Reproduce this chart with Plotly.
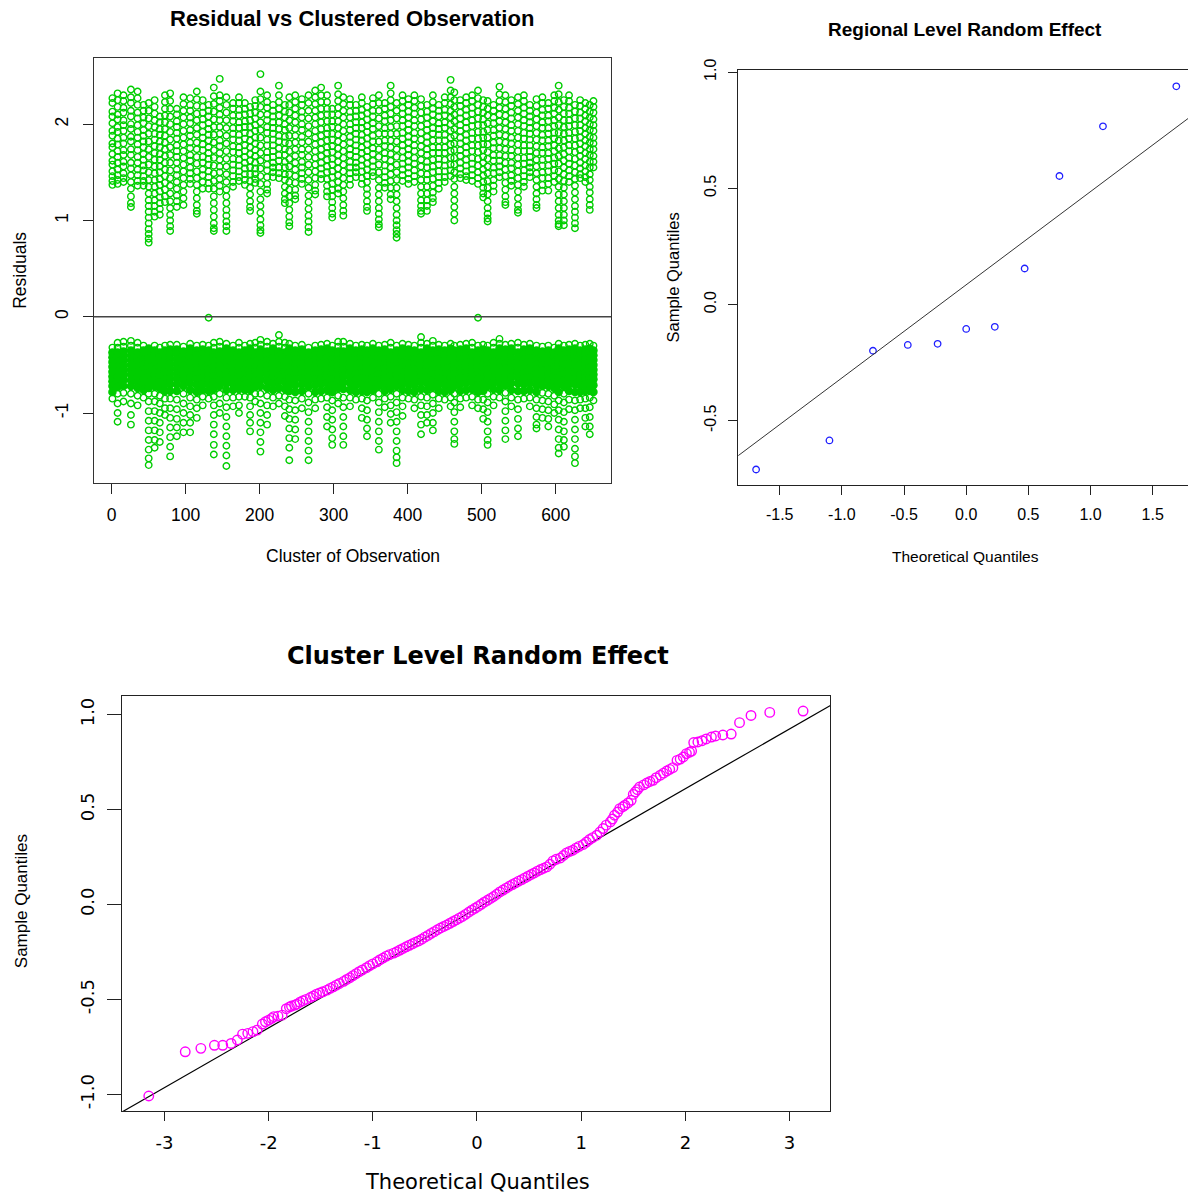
import plotly.graph_objects as go

W, H = 1188, 1194

# ---------------- Panel 1: residuals by cluster ----------------
upper_resid = {
    1: [2.27, 2.22, 2.13, 2.08, 2.01, 1.93, 1.88, 1.8, 1.76, 1.69, 1.62, 1.58, 1.51, 1.46, 1.41, 1.37],
    8: [2.32, 2.25, 2.18, 2.1, 2.05, 1.97, 1.92, 1.85, 1.79, 1.72, 1.66, 1.6, 1.53, 1.47, 1.42, 1.38],
    16: [2.3, 2.24, 2.17, 2.12, 2.04, 1.99, 1.93, 1.86, 1.8, 1.73, 1.68, 1.61, 1.56, 1.49, 1.44, 1.4],
    26: [2.36, 2.28, 2.22, 2.14, 2.08, 2.0, 1.95, 1.87, 1.82, 1.74, 1.68, 1.6, 1.54, 1.47, 1.4, 1.33, 1.25, 1.18, 1.14],
    35: [2.34, 2.27, 2.2, 2.12, 2.06, 1.99, 1.92, 1.86, 1.79, 1.73, 1.66, 1.6, 1.53, 1.47, 1.41, 1.36],
    43: [2.2, 2.14, 2.07, 2.01, 1.94, 1.88, 1.82, 1.76, 1.69, 1.63, 1.57, 1.52, 1.46, 1.41, 1.36],
    50: [2.22, 2.14, 2.06, 1.98, 1.9, 1.82, 1.74, 1.66, 1.58, 1.5, 1.42, 1.35, 1.28, 1.21, 1.15, 1.09, 1.03, .97, .91, .86, .81, .77],
    58: [2.25, 2.18, 2.11, 2.04, 1.97, 1.9, 1.84, 1.77, 1.7, 1.63, 1.56, 1.49, 1.42, 1.35, 1.28, 1.21, 1.15, 1.09, 1.04],
    65: [2.08, 2.02, 1.95, 1.89, 1.82, 1.76, 1.69, 1.63, 1.56, 1.5, 1.43, 1.37, 1.3, 1.24, 1.18, 1.12, 1.06],
    72: [2.3, 2.23, 2.16, 2.09, 2.02, 1.95, 1.88, 1.81, 1.74, 1.67, 1.6, 1.53, 1.46, 1.39, 1.32, 1.25, 1.19],
    79: [2.32, 2.24, 2.16, 2.08, 2.0, 1.92, 1.84, 1.76, 1.68, 1.6, 1.52, 1.44, 1.36, 1.28, 1.2, 1.13, 1.06, 1.0, .94, .89],
    88: [2.16, 2.1, 2.03, 1.97, 1.91, 1.85, 1.78, 1.72, 1.66, 1.6, 1.53, 1.47, 1.4, 1.33, 1.26, 1.2, 1.14],
    97: [2.28, 2.21, 2.14, 2.07, 2.0, 1.93, 1.86, 1.79, 1.72, 1.65, 1.58, 1.51, 1.44, 1.37, 1.3, 1.23, 1.16],
    106: [2.27, 2.2, 2.14, 2.07, 2.01, 1.94, 1.88, 1.81, 1.75, 1.68, 1.62, 1.55, 1.49, 1.43, 1.38],
    115: [2.34, 2.26, 2.19, 2.11, 2.04, 1.96, 1.89, 1.81, 1.74, 1.66, 1.59, 1.51, 1.44, 1.37, 1.3, 1.23, 1.16, 1.1, 1.07],
    123: [2.25, 2.18, 2.12, 2.05, 1.99, 1.92, 1.86, 1.79, 1.73, 1.66, 1.6, 1.53, 1.47, 1.4, 1.33],
    131: [2.2, 2.14, 2.08, 2.01, 1.95, 1.89, 1.83, 1.76, 1.7, 1.64, 1.58, 1.51, 1.45, 1.39, 1.33],
    138: [2.38, 2.29, 2.21, 2.13, 2.05, 1.97, 1.89, 1.81, 1.73, 1.65, 1.57, 1.49, 1.41, 1.33, 1.25, 1.18, 1.11, 1.04, .97, .92, .89],
    146: [2.47, 2.3, 2.24, 2.17, 2.1, 2.04, 1.97, 1.9, 1.83, 1.77, 1.7, 1.63, 1.56, 1.5, 1.43, 1.36, 1.3],
    155: [2.28, 2.2, 2.12, 2.04, 1.96, 1.88, 1.8, 1.72, 1.64, 1.56, 1.48, 1.4, 1.32, 1.25, 1.18, 1.11, 1.05, .99, .94, .89],
    164: [2.22, 2.16, 2.09, 2.03, 1.96, 1.9, 1.84, 1.77, 1.71, 1.64, 1.58, 1.52, 1.46, 1.4, 1.35],
    172: [2.28, 2.22, 2.15, 2.09, 2.02, 1.96, 1.89, 1.83, 1.76, 1.7, 1.63, 1.57, 1.51, 1.45, 1.41],
    180: [2.22, 2.16, 2.1, 2.03, 1.97, 1.91, 1.85, 1.78, 1.72, 1.66, 1.6, 1.54, 1.48, 1.42, 1.37],
    187: [2.18, 2.11, 2.04, 1.97, 1.9, 1.83, 1.76, 1.69, 1.62, 1.55, 1.48, 1.41, 1.34, 1.27, 1.2, 1.14, 1.1],
    194: [2.25, 2.19, 2.12, 2.06, 1.99, 1.93, 1.86, 1.8, 1.73, 1.67, 1.6, 1.54, 1.48, 1.43, 1.39],
    201: [2.52, 2.34, 2.26, 2.18, 2.1, 2.02, 1.94, 1.86, 1.78, 1.7, 1.62, 1.54, 1.46, 1.38, 1.3, 1.22, 1.15, 1.08, 1.01, .95, .9, .87],
    210: [2.3, 2.23, 2.17, 2.1, 2.04, 1.97, 1.91, 1.84, 1.78, 1.71, 1.65, 1.58, 1.52, 1.45, 1.38, 1.32, 1.28],
    218: [2.2, 2.14, 2.08, 2.02, 1.96, 1.9, 1.84, 1.78, 1.72, 1.66, 1.6, 1.55, 1.5, 1.45],
    226: [2.4, 2.3, 2.23, 2.16, 2.09, 2.02, 1.95, 1.88, 1.82, 1.75, 1.68, 1.62, 1.55, 1.49, 1.44],
    234: [2.2, 2.13, 2.07, 2.0, 1.94, 1.87, 1.81, 1.74, 1.68, 1.61, 1.55, 1.48, 1.42, 1.35, 1.28, 1.22, 1.18],
    240: [2.28, 2.2, 2.12, 2.04, 1.96, 1.88, 1.8, 1.72, 1.64, 1.56, 1.48, 1.4, 1.32, 1.25, 1.18, 1.11, 1.04, .98, .94],
    248: [2.3, 2.23, 2.16, 2.09, 2.02, 1.95, 1.88, 1.81, 1.74, 1.67, 1.6, 1.53, 1.46, 1.39, 1.32, 1.26, 1.22],
    257: [2.26, 2.2, 2.13, 2.07, 2.0, 1.94, 1.87, 1.81, 1.74, 1.68, 1.61, 1.55, 1.49, 1.43, 1.38],
    266: [2.3, 2.22, 2.14, 2.06, 1.98, 1.9, 1.82, 1.74, 1.66, 1.58, 1.5, 1.42, 1.34, 1.26, 1.19, 1.12, 1.05, .99, .93, .88],
    275: [2.35, 2.28, 2.21, 2.14, 2.07, 2.0, 1.93, 1.86, 1.79, 1.72, 1.65, 1.58, 1.51, 1.44, 1.37, 1.31, 1.27],
    283: [2.38, 2.3, 2.23, 2.16, 2.09, 2.02, 1.95, 1.88, 1.81, 1.74, 1.67, 1.6, 1.54, 1.48, 1.43],
    291: [2.3, 2.23, 2.16, 2.1, 2.03, 1.96, 1.9, 1.83, 1.76, 1.7, 1.63, 1.56, 1.5, 1.43, 1.36, 1.3, 1.25],
    298: [2.16, 2.1, 2.03, 1.97, 1.9, 1.84, 1.77, 1.71, 1.64, 1.58, 1.51, 1.45, 1.38, 1.32, 1.25, 1.19, 1.13, 1.07, 1.03],
    306: [2.4, 2.31, 2.24, 2.17, 2.1, 2.03, 1.96, 1.89, 1.82, 1.75, 1.68, 1.61, 1.54, 1.47, 1.4, 1.33, 1.28],
    313: [2.28, 2.21, 2.14, 2.07, 2.0, 1.93, 1.86, 1.79, 1.72, 1.65, 1.58, 1.51, 1.44, 1.37, 1.3, 1.23, 1.16, 1.1, 1.05],
    322: [2.26, 2.2, 2.13, 2.07, 2.0, 1.94, 1.87, 1.81, 1.74, 1.68, 1.61, 1.55, 1.49, 1.43, 1.37],
    330: [2.2, 2.14, 2.08, 2.02, 1.96, 1.9, 1.84, 1.78, 1.72, 1.66, 1.6, 1.55, 1.5, 1.45],
    338: [2.28, 2.22, 2.15, 2.09, 2.02, 1.96, 1.89, 1.83, 1.76, 1.7, 1.63, 1.57, 1.51, 1.44, 1.38],
    345: [2.18, 2.11, 2.05, 1.98, 1.92, 1.85, 1.79, 1.72, 1.66, 1.59, 1.53, 1.46, 1.4, 1.33, 1.27, 1.2, 1.14, 1.1],
    353: [2.27, 2.21, 2.14, 2.08, 2.01, 1.95, 1.88, 1.82, 1.75, 1.69, 1.62, 1.56, 1.5, 1.46],
    361: [2.3, 2.22, 2.14, 2.06, 1.98, 1.9, 1.82, 1.74, 1.66, 1.58, 1.5, 1.42, 1.34, 1.27, 1.2, 1.13, 1.07, 1.01, .96, .93],
    369: [2.22, 2.16, 2.09, 2.03, 1.96, 1.9, 1.83, 1.77, 1.7, 1.64, 1.57, 1.51, 1.45, 1.39, 1.34],
    377: [2.4, 2.32, 2.25, 2.18, 2.11, 2.04, 1.97, 1.9, 1.83, 1.76, 1.69, 1.62, 1.55, 1.48, 1.41, 1.34, 1.27, 1.22],
    385: [2.22, 2.14, 2.06, 1.98, 1.9, 1.82, 1.74, 1.66, 1.58, 1.5, 1.42, 1.34, 1.27, 1.2, 1.13, 1.06, 1.0, .95, .9, .86, .82],
    393: [2.3, 2.24, 2.17, 2.11, 2.04, 1.98, 1.91, 1.85, 1.78, 1.72, 1.65, 1.59, 1.53, 1.47, 1.41],
    401: [2.26, 2.2, 2.13, 2.07, 2.0, 1.94, 1.87, 1.81, 1.74, 1.68, 1.61, 1.55, 1.49, 1.43, 1.38],
    409: [2.3, 2.24, 2.17, 2.11, 2.04, 1.98, 1.91, 1.85, 1.78, 1.72, 1.65, 1.59, 1.52, 1.46, 1.4],
    418: [2.26, 2.19, 2.12, 2.05, 1.98, 1.91, 1.84, 1.77, 1.7, 1.63, 1.56, 1.49, 1.42, 1.35, 1.28, 1.21, 1.15, 1.1, 1.07],
    426: [2.2, 2.13, 2.07, 2.0, 1.94, 1.87, 1.81, 1.74, 1.68, 1.61, 1.55, 1.48, 1.42, 1.35, 1.28, 1.21, 1.15, 1.1],
    434: [2.3, 2.23, 2.16, 2.1, 2.03, 1.96, 1.9, 1.83, 1.76, 1.7, 1.63, 1.56, 1.5, 1.43, 1.36, 1.29, 1.23, 1.19],
    442: [2.2, 2.14, 2.08, 2.01, 1.95, 1.89, 1.83, 1.76, 1.7, 1.64, 1.58, 1.51, 1.45, 1.39, 1.33],
    450: [2.28, 2.22, 2.15, 2.09, 2.02, 1.96, 1.89, 1.83, 1.76, 1.7, 1.63, 1.57, 1.51, 1.45, 1.4],
    458: [2.46, 2.35, 2.28, 2.21, 2.14, 2.07, 2.0, 1.93, 1.86, 1.79, 1.72, 1.65, 1.58, 1.52, 1.46],
    463: [2.33, 2.25, 2.18, 2.1, 2.03, 1.95, 1.88, 1.8, 1.73, 1.65, 1.58, 1.5, 1.43, 1.35, 1.28, 1.21, 1.14, 1.07, 1.0],
    471: [2.25, 2.19, 2.12, 2.06, 1.99, 1.93, 1.86, 1.8, 1.73, 1.67, 1.6, 1.54, 1.48, 1.44],
    479: [2.28, 2.22, 2.15, 2.09, 2.02, 1.96, 1.89, 1.83, 1.76, 1.7, 1.63, 1.57, 1.51, 1.46, 1.42],
    487: [2.3, 2.24, 2.17, 2.11, 2.04, 1.98, 1.91, 1.85, 1.78, 1.72, 1.65, 1.59, 1.53, 1.47, 1.41],
    495: [2.35, 2.27, 2.2, 2.13, 2.06, 1.99, 1.92, 1.85, 1.78, 1.71, 1.64, 1.57, 1.5, 1.44, 1.38],
    502: [2.25, 2.18, 2.12, 2.05, 1.99, 1.92, 1.86, 1.79, 1.73, 1.66, 1.6, 1.53, 1.47, 1.4, 1.34, 1.28, 1.24],
    508: [2.24, 2.16, 2.09, 2.01, 1.94, 1.86, 1.79, 1.71, 1.64, 1.56, 1.49, 1.41, 1.34, 1.27, 1.2, 1.13, 1.07, 1.02, .99],
    516: [2.2, 2.14, 2.07, 2.01, 1.94, 1.88, 1.81, 1.75, 1.68, 1.62, 1.55, 1.49, 1.42, 1.36, 1.3],
    524: [2.39, 2.31, 2.24, 2.17, 2.1, 2.03, 1.96, 1.89, 1.82, 1.75, 1.68, 1.62, 1.56, 1.5, 1.45],
    532: [2.3, 2.23, 2.16, 2.09, 2.02, 1.95, 1.88, 1.81, 1.74, 1.67, 1.6, 1.53, 1.46, 1.39, 1.32, 1.25, 1.19, 1.16],
    540: [2.25, 2.19, 2.12, 2.06, 1.99, 1.93, 1.86, 1.8, 1.73, 1.67, 1.6, 1.54, 1.47, 1.41, 1.36],
    549: [2.28, 2.21, 2.14, 2.07, 2.0, 1.93, 1.86, 1.79, 1.72, 1.65, 1.58, 1.51, 1.44, 1.37, 1.3, 1.23, 1.16, 1.11, 1.08],
    557: [2.3, 2.24, 2.17, 2.11, 2.04, 1.98, 1.91, 1.85, 1.78, 1.72, 1.65, 1.59, 1.52, 1.46, 1.4, 1.35],
    565: [2.2, 2.14, 2.08, 2.02, 1.96, 1.9, 1.84, 1.78, 1.72, 1.66, 1.6, 1.55, 1.5, 1.45],
    574: [2.26, 2.19, 2.12, 2.05, 1.98, 1.91, 1.84, 1.77, 1.7, 1.63, 1.56, 1.49, 1.42, 1.35, 1.28, 1.22, 1.16, 1.13],
    582: [2.28, 2.22, 2.15, 2.09, 2.02, 1.96, 1.89, 1.83, 1.76, 1.7, 1.63, 1.57, 1.5, 1.44, 1.37, 1.31],
    590: [2.22, 2.16, 2.09, 2.03, 1.96, 1.9, 1.83, 1.77, 1.7, 1.64, 1.57, 1.51, 1.44, 1.38, 1.31],
    598: [2.3, 2.24, 2.17, 2.11, 2.04, 1.98, 1.91, 1.85, 1.78, 1.72, 1.65, 1.59, 1.52, 1.46, 1.4],
    604: [2.4, 2.31, 2.23, 2.15, 2.07, 1.99, 1.91, 1.83, 1.75, 1.67, 1.59, 1.51, 1.43, 1.35, 1.27, 1.2, 1.13, 1.06, 1.0, .96, .94],
    611: [2.25, 2.18, 2.11, 2.04, 1.97, 1.9, 1.83, 1.76, 1.69, 1.62, 1.55, 1.48, 1.41, 1.34, 1.27, 1.2, 1.13, 1.06, 1.0, .95],
    618: [2.3, 2.24, 2.17, 2.11, 2.04, 1.98, 1.91, 1.85, 1.78, 1.72, 1.65, 1.59, 1.52, 1.46, 1.4],
    626: [2.2, 2.13, 2.06, 1.99, 1.92, 1.85, 1.78, 1.71, 1.64, 1.57, 1.5, 1.43, 1.36, 1.29, 1.22, 1.15, 1.09, 1.03, .97, .92],
    633: [2.25, 2.19, 2.12, 2.06, 1.99, 1.93, 1.86, 1.8, 1.73, 1.67, 1.6, 1.54, 1.48, 1.44],
    640: [2.22, 2.16, 2.09, 2.03, 1.96, 1.9, 1.83, 1.77, 1.7, 1.64, 1.57, 1.51, 1.45, 1.4],
    646: [2.2, 2.13, 2.07, 2.0, 1.94, 1.87, 1.81, 1.74, 1.68, 1.61, 1.55, 1.48, 1.42, 1.35, 1.29, 1.22, 1.16, 1.11],
    651: [2.24, 2.18, 2.12, 2.05, 1.99, 1.93, 1.86, 1.8, 1.74, 1.67, 1.61, 1.55],
}

lower_resid = {
    1: [-.32, -.37, -.42, -.47, -.52, -.57, -.62, -.67, -.72, -.78, -.85],
    8: [-.27, -.32, -.37, -.42, -.47, -.52, -.57, -.62, -.67, -.73, -.8, -.9, -1.0, -1.09],
    16: [-.26, -.31, -.36, -.41, -.46, -.51, -.56, -.61, -.66, -.72, -.79, -.88],
    26: [-.25, -.3, -.35, -.4, -.45, -.5, -.55, -.6, -.66, -.72, -.8, -.9, -1.02, -1.12],
    35: [-.27, -.32, -.37, -.42, -.47, -.52, -.57, -.62, -.68, -.74, -.82, -.92],
    43: [-.3, -.35, -.4, -.45, -.5, -.55, -.6, -.65, -.7, -.76, -.84],
    50: [-.33, -.38, -.43, -.48, -.53, -.58, -.63, -.68, -.74, -.8, -.88, -.98, -1.08, -1.18, -1.28, -1.38, -1.47, -1.54],
    58: [-.3, -.35, -.4, -.45, -.5, -.55, -.6, -.66, -.72, -.8, -.88, -.98, -1.08, -1.18, -1.28, -1.36],
    65: [-.32, -.37, -.42, -.47, -.52, -.57, -.62, -.68, -.74, -.82, -.9, -1.0, -1.1, -1.2, -1.3],
    72: [-.3, -.35, -.4, -.45, -.5, -.55, -.6, -.65, -.7, -.77, -.85, -.95, -1.02],
    79: [-.29, -.34, -.39, -.44, -.49, -.54, -.59, -.64, -.7, -.77, -.85, -.95, -1.05, -1.15, -1.25, -1.35, -1.45],
    88: [-.29, -.34, -.39, -.44, -.49, -.54, -.59, -.64, -.7, -.77, -.86, -.96, -1.06, -1.15, -1.24],
    97: [-.31, -.36, -.41, -.46, -.51, -.56, -.61, -.66, -.72, -.8, -.9, -1.0, -1.1, -1.2],
    106: [-.28, -.33, -.38, -.43, -.48, -.53, -.58, -.63, -.69, -.76, -.84, -.93, -1.02, -1.1, -1.2],
    115: [-.3, -.35, -.4, -.45, -.5, -.55, -.6, -.65, -.71, -.78, -.86, -.95, -1.05],
    123: [-.29, -.34, -.39, -.44, -.49, -.54, -.59, -.64, -.7, -.76, -.83, -.92],
    131: [-.3, -.35, -.4, -.45, -.5, -.55, -.6, -.65, -.7, -.77, -.85],
    138: [-.27, -.32, -.37, -.42, -.47, -.52, -.57, -.62, -.68, -.75, -.83, -.92, -1.02, -1.12, -1.22, -1.33, -1.43],
    146: [-.26, -.31, -.36, -.41, -.46, -.51, -.56, -.61, -.66, -.72, -.8, -.9, -1.0],
    155: [-.28, -.33, -.38, -.43, -.48, -.53, -.58, -.63, -.69, -.76, -.84, -.94, -1.04, -1.14, -1.24, -1.34, -1.44, -1.55],
    164: [-.3, -.35, -.4, -.45, -.5, -.55, -.6, -.65, -.7, -.76, -.84, -.93],
    172: [-.27, -.32, -.37, -.42, -.47, -.52, -.57, -.62, -.68, -.75, -.83, -.92, -1.0],
    180: [-.3, -.35, -.4, -.45, -.5, -.55, -.6, -.65, -.7, -.76, -.83],
    187: [-.28, -.33, -.38, -.43, -.48, -.53, -.58, -.63, -.69, -.76, -.84, -.93, -1.02, -1.1, -1.19],
    194: [-.27, -.32, -.37, -.42, -.47, -.52, -.57, -.62, -.67, -.73, -.8, -.88],
    201: [-.24, -.29, -.34, -.39, -.44, -.49, -.54, -.59, -.65, -.72, -.8, -.9, -1.0, -1.1, -1.2, -1.3, -1.4],
    210: [-.26, -.31, -.36, -.41, -.46, -.51, -.56, -.61, -.67, -.74, -.82, -.92, -1.02, -1.12],
    218: [-.28, -.33, -.38, -.43, -.48, -.53, -.58, -.63, -.69, -.76, -.84, -.93],
    226: [-.19, -.26, -.31, -.36, -.41, -.46, -.51, -.56, -.61, -.67, -.74, -.82, -.9],
    234: [-.27, -.32, -.37, -.42, -.47, -.52, -.57, -.62, -.68, -.75, -.83, -.93, -1.03],
    240: [-.28, -.33, -.38, -.43, -.48, -.53, -.58, -.64, -.7, -.77, -.86, -.96, -1.06, -1.16, -1.26, -1.36, -1.49],
    248: [-.3, -.35, -.4, -.45, -.5, -.55, -.6, -.65, -.71, -.78, -.87, -.97, -1.07, -1.17, -1.27],
    257: [-.29, -.34, -.39, -.44, -.49, -.54, -.59, -.64, -.7, -.77, -.85, -.95],
    266: [-.32, -.37, -.42, -.47, -.52, -.57, -.62, -.67, -.73, -.8, -.89, -.99, -1.09, -1.19, -1.29, -1.39, -1.49],
    275: [-.3, -.35, -.4, -.45, -.5, -.55, -.6, -.65, -.71, -.78, -.86, -.95],
    283: [-.29, -.34, -.39, -.44, -.49, -.54, -.59, -.64, -.7, -.77, -.85],
    291: [-.28, -.33, -.38, -.43, -.48, -.53, -.58, -.63, -.69, -.76, -.84, -.94, -1.04, -1.14],
    298: [-.3, -.35, -.4, -.45, -.5, -.55, -.6, -.65, -.71, -.78, -.87, -.97, -1.07, -1.17, -1.26, -1.33],
    306: [-.26, -.31, -.36, -.41, -.46, -.51, -.56, -.61, -.67, -.74, -.82, -.9],
    313: [-.26, -.31, -.36, -.41, -.46, -.51, -.56, -.62, -.68, -.75, -.84, -.94, -1.04, -1.14, -1.24, -1.33],
    322: [-.28, -.33, -.38, -.43, -.48, -.53, -.58, -.63, -.69, -.76, -.84, -.93],
    330: [-.3, -.35, -.4, -.45, -.5, -.55, -.6, -.65, -.71, -.78, -.86],
    338: [-.29, -.34, -.39, -.44, -.49, -.54, -.59, -.64, -.7, -.77, -.85, -.95, -1.05],
    345: [-.3, -.35, -.4, -.45, -.5, -.55, -.6, -.65, -.71, -.78, -.87, -.97, -1.07, -1.16, -1.24],
    353: [-.28, -.33, -.38, -.43, -.48, -.53, -.58, -.63, -.69, -.76, -.84],
    361: [-.3, -.35, -.4, -.45, -.5, -.55, -.6, -.66, -.72, -.8, -.89, -.99, -1.09, -1.19, -1.29, -1.38],
    369: [-.29, -.34, -.39, -.44, -.49, -.54, -.59, -.64, -.7, -.77, -.85, -.94],
    377: [-.27, -.32, -.37, -.42, -.47, -.52, -.57, -.62, -.68, -.75, -.83, -.92, -1.01, -1.1],
    385: [-.3, -.35, -.4, -.45, -.5, -.55, -.6, -.66, -.72, -.8, -.89, -.99, -1.09, -1.19, -1.29, -1.39, -1.46, -1.52],
    393: [-.28, -.33, -.38, -.43, -.48, -.53, -.58, -.63, -.69, -.76, -.84, -.93, -1.03],
    401: [-.29, -.34, -.39, -.44, -.49, -.54, -.59, -.64, -.7, -.77, -.85],
    409: [-.3, -.35, -.4, -.45, -.5, -.55, -.6, -.65, -.71, -.78, -.86, -.95],
    418: [-.21, -.27, -.32, -.37, -.42, -.47, -.52, -.57, -.62, -.68, -.75, -.83, -.92, -1.02, -1.12, -1.22],
    426: [-.28, -.33, -.38, -.43, -.48, -.53, -.58, -.63, -.69, -.76, -.84, -.93, -1.02, -1.1],
    434: [-.25, -.3, -.35, -.4, -.45, -.5, -.55, -.6, -.66, -.73, -.81, -.9, -1.0, -1.1, -1.18],
    442: [-.29, -.34, -.39, -.44, -.49, -.54, -.59, -.64, -.7, -.77, -.85, -.95],
    450: [-.3, -.35, -.4, -.45, -.5, -.55, -.6, -.65, -.71, -.78, -.86],
    458: [-.28, -.33, -.38, -.43, -.48, -.53, -.58, -.63, -.69, -.76, -.84, -.93],
    463: [-.3, -.35, -.4, -.45, -.5, -.55, -.6, -.66, -.72, -.8, -.89, -.99, -1.09, -1.19, -1.27, -1.32],
    471: [-.29, -.34, -.39, -.44, -.49, -.54, -.59, -.64, -.7, -.77, -.85, -.94],
    479: [-.28, -.33, -.38, -.43, -.48, -.53, -.58, -.63, -.69, -.76, -.84],
    487: [-.27, -.32, -.37, -.42, -.47, -.52, -.57, -.62, -.68, -.75, -.83, -.92],
    495: [-.3, -.35, -.4, -.45, -.5, -.55, -.6, -.65, -.71, -.78, -.86, -.95],
    502: [-.29, -.34, -.39, -.44, -.49, -.54, -.59, -.64, -.7, -.77, -.86, -.96, -1.06],
    508: [-.3, -.35, -.4, -.45, -.5, -.55, -.6, -.66, -.72, -.8, -.89, -.99, -1.09, -1.19, -1.28, -1.33],
    516: [-.27, -.32, -.37, -.42, -.47, -.52, -.57, -.62, -.68, -.75, -.83, -.92],
    524: [-.23, -.28, -.33, -.38, -.43, -.48, -.53, -.58, -.63, -.69, -.76, -.84],
    532: [-.29, -.34, -.39, -.44, -.49, -.54, -.59, -.65, -.71, -.79, -.88, -.98, -1.08, -1.18, -1.27],
    540: [-.28, -.33, -.38, -.43, -.48, -.53, -.58, -.63, -.69, -.76, -.84, -.93],
    549: [-.27, -.32, -.37, -.42, -.47, -.52, -.57, -.63, -.69, -.77, -.86, -.96, -1.06, -1.16, -1.24],
    557: [-.29, -.34, -.39, -.44, -.49, -.54, -.59, -.64, -.7, -.77, -.85],
    565: [-.28, -.33, -.38, -.43, -.48, -.53, -.58, -.63, -.69, -.76, -.84, -.93],
    574: [-.3, -.35, -.4, -.45, -.5, -.55, -.6, -.65, -.71, -.78, -.86, -.95, -1.04, -1.12, -1.16],
    582: [-.31, -.36, -.41, -.46, -.51, -.56, -.61, -.66, -.72, -.79, -.87, -.96, -1.05],
    590: [-.3, -.35, -.4, -.45, -.5, -.55, -.6, -.66, -.72, -.8, -.88, -.97, -1.06, -1.14],
    598: [-.32, -.37, -.42, -.47, -.52, -.57, -.62, -.68, -.74, -.82, -.91, -1.0],
    604: [-.28, -.33, -.38, -.43, -.48, -.53, -.58, -.64, -.7, -.78, -.87, -.97, -1.07, -1.17, -1.27, -1.36, -1.42],
    611: [-.3, -.35, -.4, -.45, -.5, -.55, -.6, -.66, -.72, -.8, -.89, -.99, -1.09, -1.19, -1.28, -1.35],
    618: [-.29, -.34, -.39, -.44, -.49, -.54, -.59, -.64, -.7, -.77, -.86, -.96],
    626: [-.28, -.33, -.38, -.43, -.48, -.53, -.58, -.64, -.7, -.78, -.87, -.97, -1.07, -1.17, -1.27, -1.37, -1.45, -1.52],
    633: [-.3, -.35, -.4, -.45, -.5, -.55, -.6, -.65, -.71, -.78, -.86, -.95],
    640: [-.29, -.34, -.39, -.44, -.49, -.54, -.59, -.64, -.7, -.77, -.85, -.95, -1.05, -1.14],
    646: [-.28, -.33, -.38, -.43, -.48, -.53, -.58, -.63, -.69, -.76, -.84, -.94, -1.04, -1.14, -1.22],
    651: [-.3, -.35, -.4, -.45, -.5, -.55, -.6, -.65, -.71, -.78, -.87],
}

near_zero_x = [131, 495]
near_zero_y = [-0.01, -0.01]

resid_xticks = [0, 100, 200, 300, 400, 500, 600]
resid_yticks = [-1, 0, 1, 2]

# ---------------- Panel 2: regional random effect QQ ----------------
region_theo = [-1.69, -1.10, -0.75, -0.47, -0.23, 0.0, 0.23, 0.47, 0.75, 1.10, 1.69]
region_sample = [-0.710, -0.585, -0.199, -0.174, -0.169, -0.105, -0.096, 0.155, 0.553, 0.767, 0.939]
region_qqline = {"intercept": 0.085, "slope": 0.401}
region_xticks = [-1.5, -1.0, -0.5, 0.0, 0.5, 1.0, 1.5]
region_xlabels = ["-1.5", "-1.0", "-0.5", "0.0", "0.5", "1.0", "1.5"]
region_yticks = [-0.5, 0.0, 0.5, 1.0]
region_ylabels = ["-0.5", "0.0", "0.5", "1.0"]

# ---------------- Panel 3: cluster random effect QQ ----------------
cluster_theo = [-3.15, -2.80, -2.65, -2.52, -2.44, -2.36, -2.30, -2.25, -2.20, -2.15, -2.11, -2.06,
                -2.03, -2.00, -1.97, -1.95, -1.91, -1.87, -1.83, -1.80, -1.78, -1.75, -1.73, -1.70,
                -1.67, -1.64, -1.60, -1.57, -1.54, -1.51, -1.48, -1.44, -1.41, -1.38, -1.35, -1.32,
                -1.28, -1.25, -1.22, -1.19, -1.16, -1.13, -1.10, -1.06, -1.03, -1.00, -0.96, -0.93,
                -0.90, -0.87, -0.84, -0.80, -0.77, -0.74, -0.71, -0.68, -0.65, -0.62, -0.59, -0.56,
                -0.53, -0.50, -0.47, -0.44, -0.41, -0.38, -0.35, -0.32, -0.29, -0.26, -0.23, -0.20,
                -0.17, -0.14, -0.11, -0.08, -0.05, -0.02, 0.01, 0.04, 0.07, 0.10, 0.13, 0.16,
                0.19, 0.22, 0.25, 0.28, 0.31, 0.34, 0.37, 0.40, 0.43, 0.46, 0.49, 0.52,
                0.55, 0.58, 0.61, 0.64, 0.67, 0.70, 0.73, 0.76, 0.80, 0.83, 0.86, 0.89,
                0.92, 0.95, 0.98, 1.02, 1.05, 1.08, 1.11, 1.15, 1.18, 1.21, 1.24, 1.28,
                1.30, 1.32, 1.35, 1.37, 1.40, 1.42, 1.45, 1.48, 1.50, 1.52, 1.54, 1.56,
                1.60, 1.63, 1.66, 1.69, 1.72, 1.76, 1.79, 1.82, 1.85, 1.88, 1.92, 1.95,
                1.98, 2.01, 2.04, 2.06, 2.08, 2.12, 2.16, 2.20, 2.25, 2.29, 2.36, 2.44,
                2.52, 2.63, 2.81, 3.13]
cluster_sample = [-1.009, -0.776, -0.758, -0.742, -0.742, -0.732, -0.714, -0.683, -0.679, -0.670, -0.662, -0.630,
                  -0.618, -0.609, -0.600, -0.591, -0.588, -0.583, -0.549, -0.540, -0.535, -0.530, -0.525, -0.515,
                  -0.507, -0.500, -0.490, -0.482, -0.472, -0.466, -0.460, -0.451, -0.442, -0.434, -0.425, -0.416,
                  -0.405, -0.395, -0.386, -0.375, -0.364, -0.354, -0.345, -0.333, -0.322, -0.313, -0.302, -0.291,
                  -0.282, -0.272, -0.264, -0.256, -0.249, -0.240, -0.232, -0.223, -0.215, -0.207, -0.199, -0.192,
                  -0.183, -0.172, -0.163, -0.152, -0.143, -0.133, -0.124, -0.116, -0.108, -0.099, -0.090, -0.081,
                  -0.072, -0.063, -0.052, -0.041, -0.030, -0.020, -0.010, 0.001, 0.012, 0.022, 0.032, 0.042,
                  0.054, 0.066, 0.076, 0.086, 0.096, 0.105, 0.114, 0.123, 0.131, 0.140, 0.149, 0.158,
                  0.166, 0.176, 0.184, 0.191, 0.198, 0.212, 0.230, 0.238, 0.245, 0.258, 0.272, 0.280,
                  0.286, 0.297, 0.306, 0.316, 0.329, 0.342, 0.352, 0.365, 0.382, 0.400, 0.418, 0.435,
                  0.450, 0.470, 0.487, 0.505, 0.515, 0.523, 0.535, 0.549, 0.580, 0.593, 0.605, 0.619,
                  0.630, 0.640, 0.648, 0.654, 0.668, 0.681, 0.692, 0.703, 0.712, 0.721, 0.759, 0.766,
                  0.777, 0.795, 0.802, 0.808, 0.853, 0.856, 0.863, 0.872, 0.882, 0.888, 0.893, 0.898,
                  0.958, 0.996, 1.012, 1.019]
cluster_qqline = {"intercept": -0.02, "slope": 0.315}
cluster_xticks = [-3, -2, -1, 0, 1, 2, 3]
cluster_xlabels = ["-3", "-2", "-1", "0", "1", "2", "3"]
cluster_yticks = [-1.0, -0.5, 0.0, 0.5, 1.0]
cluster_ylabels = ["-1.0", "-0.5", "0.0", "0.5", "1.0"]

assert len(cluster_theo) == len(cluster_sample)


# ---------------- geometry helpers (pixel -> paper) ----------------
def px(x):
    return x / W


def py(y):
    return 1 - y / H


# axis ranges (value extents of each plotting box)
r1x = [-24.3, 674.7]
r1y = [-1.723, 2.684]
r2x = [-1.834, 1.784]
r2y = [-0.775, 1.008]
r3x = [-3.407, 3.392]
r3y = [-1.088, 1.101]

GREEN = "#00CD00"
SANS = "Liberation Sans, Arial, sans-serif"
WIDE = "DejaVu Sans, Verdana, sans-serif"

fig = go.Figure()

# Panel 1 points: the dense middle of the negative band is drawn solid (the rings merge there)
ring_x, ring_y, core_x, core_y = [], [], [], []
for cid, vals in upper_resid.items():
    for v in vals:
        ring_x.append(cid)
        ring_y.append(v)
for cid, vals in lower_resid.items():
    for v in vals:
        if -0.78 <= v <= -0.33:
            core_x.append(cid)
            core_y.append(v)
        else:
            ring_x.append(cid)
            ring_y.append(v)
ring_x += near_zero_x
ring_y += near_zero_y

fig.add_trace(go.Scatter(x=core_x, y=core_y, mode="markers", xaxis="x", yaxis="y",
                         marker=dict(symbol="circle", size=8.5, color=GREEN, line=dict(width=0)),
                         hoverinfo="skip"))
fig.add_trace(go.Scatter(x=ring_x, y=ring_y, mode="markers", xaxis="x", yaxis="y",
                         marker=dict(symbol="circle-open", size=6.5, color=GREEN,
                                     line=dict(width=1.4, color=GREEN)),
                         hoverinfo="skip"))

# Panel 2 points + qq line
fig.add_trace(go.Scatter(x=region_theo, y=region_sample, mode="markers", xaxis="x2", yaxis="y2",
                         marker=dict(symbol="circle-open", size=6.5, color="#1f1fff",
                                     line=dict(width=1.3, color="#1f1fff")),
                         hoverinfo="skip"))
ly2 = [region_qqline["intercept"] + region_qqline["slope"] * v for v in r2x]
fig.add_trace(go.Scatter(x=r2x, y=ly2, mode="lines", xaxis="x2", yaxis="y2",
                         line=dict(color="#333333", width=1), hoverinfo="skip"))

# Panel 3 qq line + points
ly3 = [cluster_qqline["intercept"] + cluster_qqline["slope"] * v for v in r3x]
fig.add_trace(go.Scatter(x=r3x, y=ly3, mode="lines", xaxis="x3", yaxis="y3",
                         line=dict(color="black", width=1.2), hoverinfo="skip"))
fig.add_trace(go.Scatter(x=cluster_theo, y=cluster_sample, mode="markers", xaxis="x3", yaxis="y3",
                         marker=dict(symbol="circle-open", size=9.5, color="#FF00FF",
                                     line=dict(width=1.4, color="#FF00FF")),
                         hoverinfo="skip"))


def axis(domain, rng, tickvals, ticktext, anchor, ticklen, font, angle=0, mirror=True,
         standoff=2, linecolor="#222222"):
    return dict(domain=domain, range=rng, anchor=anchor, tickmode="array",
                tickvals=tickvals, ticktext=ticktext, ticks="outside", ticklen=ticklen,
                tickwidth=1, tickcolor="#222222", showline=True, linecolor=linecolor,
                linewidth=1, mirror=mirror, showgrid=False, zeroline=False, automargin=False,
                tickfont=font, tickangle=angle, ticklabelstandoff=standoff, fixedrange=True)


f1 = dict(family=SANS, size=17.5, color="black")
f2 = dict(family=SANS, size=16, color="black")
f3 = dict(family=WIDE, size=18, color="black")

layout = dict(
    width=W, height=H, margin=dict(l=0, r=0, t=0, b=0, pad=0, autoexpand=False),
    paper_bgcolor="white", plot_bgcolor="white", showlegend=False,
    xaxis=axis([px(93.7), px(611)], r1x, resid_xticks, [str(v) for v in resid_xticks], "y", 10, f1,
               standoff=6, linecolor="#333333"),
    yaxis=axis([py(482.7), py(58.3)], r1y, resid_yticks, [str(v) for v in resid_yticks], "x", 10, f1,
               angle=-90, standoff=8, linecolor="#333333"),
    xaxis2=axis([px(738.2), 1.0], r2x, region_xticks, region_xlabels, "y2", 9, f2, standoff=6),
    yaxis2=axis([py(484.6), py(70.3)], r2y, region_yticks, region_ylabels, "x2", 9, f2,
                angle=-90, mirror=False, standoff=6),
    xaxis3=axis([px(122), px(830.4)], r3x, cluster_xticks, cluster_xlabels, "y3", 9, f3, standoff=6),
    yaxis3=axis([py(1111), py(695.5)], r3y, cluster_yticks, cluster_ylabels, "x3", 14, f3,
                angle=-90, standoff=6),
    shapes=[dict(type="line", xref="x domain", yref="y", x0=0, x1=1, y0=0, y1=0,
                 line=dict(color="#444444", width=1.3))],
)


def ann(text, x, y, font, angle=0):
    return dict(text=text, x=px(x), y=py(y), xref="paper", yref="paper", showarrow=False,
                xanchor="center", yanchor="middle", textangle=angle, font=font)


layout["annotations"] = [
    ann("Residual vs Clustered Observation", 352, 18.5, dict(family=SANS, size=22, color="black", weight=700)),
    ann("Cluster of Observation", 353, 556, dict(family=SANS, size=17.5, color="black")),
    ann("Residuals", 19.8, 270, dict(family=SANS, size=17.5, color="black"), angle=-90),
    ann("Regional Level Random Effect", 965, 30, dict(family=SANS, size=19, color="black", weight=700)),
    ann("Theoretical Quantiles", 965, 556, dict(family=SANS, size=15.5, color="black")),
    ann("Sample Quantiles", 672, 277.5, dict(family=SANS, size=16.5, color="black"), angle=-90),
    ann("Cluster Level Random Effect", 477.8, 656, dict(family=WIDE, size=24, color="black", weight=700)),
    ann("Theoretical Quantiles", 477, 1182.4, dict(family=WIDE, size=21, color="black")),
    ann("Sample Quantiles", 21.7, 901.5, dict(family=SANS, size=17, color="black"), angle=-90),
]

fig.update_layout(layout)
fig.write_html("out.html", config={"displayModeBar": False, "staticPlot": True},
               post_script="document.body.style.margin='0';document.body.style.overflow='hidden';")
